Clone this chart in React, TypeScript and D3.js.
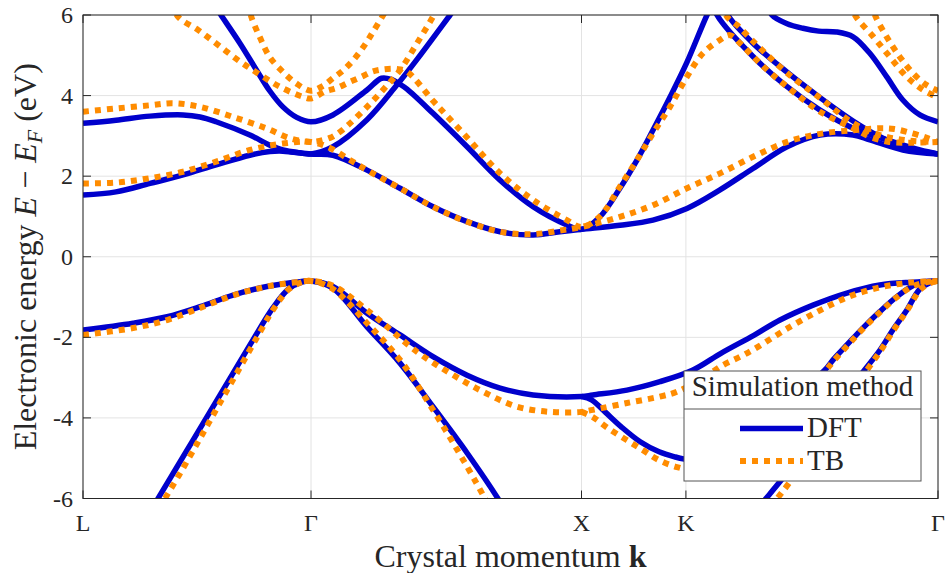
import React from "react";
import * as d3 from "d3";

type Pt = [number, number];

// k path positions (units of 2π/a) and labels
const kTicks = [0, 0.843, 1.843, 2.229, 3.161];
const kLabels = ["L", "Γ", "X", "K", "Γ"];
const eTicks = [-6, -4, -2, 0, 2, 4, 6];
const seriesNames = ["DFT", "TB"];
const legendTitle = "Simulation method";

// DFT bands: [k, E - E_F (eV)]
const dftV1: Pt[] = [[0,-1.82],[0.185,-1.65],[0.311,-1.49],[0.433,-1.24],[0.555,-0.95],[0.68,-0.74],[0.802,-0.62],[0.843,-0.6],[0.924,-0.74],[1.05,-1.4],[1.172,-1.94],[1.294,-2.48],[1.42,-2.94],[1.542,-3.26],[1.664,-3.43],[1.843,-3.47],[1.885,-3.43],[2.011,-3.31],[2.133,-3.1],[2.255,-2.81],[2.36,-2.39],[2.48,-1.95],[2.577,-1.57],[2.699,-1.2],[2.824,-0.9],[2.946,-0.7],[3.068,-0.63],[3.161,-0.6]];
const dftV2: Pt[] = [[0.26,-6.2],[0.281,-5.96],[0.333,-5.38],[0.407,-4.55],[0.481,-3.72],[0.555,-2.89],[0.628,-2.07],[0.702,-1.27],[0.76,-0.8],[0.81,-0.63],[0.843,-0.6],[0.924,-0.78],[1.05,-1.74],[1.172,-2.64],[1.294,-3.72],[1.42,-4.87],[1.534,-6.0],[1.56,-6.3]];
const dftV3: Pt[] = [[1.843,-3.47],[1.88,-3.55],[1.93,-3.85],[1.99,-4.22],[2.06,-4.59],[2.13,-4.84],[2.19,-4.97],[2.229,-5.03],[2.29,-5.1],[2.38,-4.95],[2.5,-4.3],[2.62,-3.55],[2.743,-2.81],[2.773,-2.56],[2.824,-2.19],[2.883,-1.77],[2.946,-1.36],[3.009,-0.99],[3.068,-0.72],[3.12,-0.62],[3.161,-0.6]];
const dftV4: Pt[] = [[2.5,-6.2],[2.525,-6.0],[2.577,-5.58],[2.7,-4.5],[2.8,-3.6],[2.88,-2.89],[2.946,-2.32],[2.994,-1.82],[3.046,-1.32],[3.094,-0.8],[3.13,-0.65],[3.161,-0.6]];
const dftC1: Pt[] = [[0,1.53],[0.122,1.61],[0.248,1.82],[0.37,2.03],[0.492,2.28],[0.617,2.52],[0.691,2.61],[0.739,2.62],[0.843,2.55],[0.924,2.52],[1.05,2.15],[1.172,1.7],[1.294,1.24],[1.42,0.87],[1.542,0.62],[1.664,0.54],[1.763,0.62],[1.843,0.68],[1.985,0.78],[2.107,0.91],[2.233,1.2],[2.355,1.66],[2.477,2.19],[2.603,2.73],[2.725,3.02],[2.847,3.02],[2.909,2.9],[3.031,2.65],[3.161,2.55]];
const dftCup: Pt[] = [[0,3.31],[0.122,3.39],[0.248,3.49],[0.37,3.52],[0.433,3.47],[0.492,3.35],[0.617,3.02],[0.691,2.77],[0.739,2.65],[0.8,2.58],[0.843,2.55],[0.924,2.73],[1.05,3.4],[1.16,4.26],[1.235,4.9],[1.357,6.0],[1.39,6.3]];
const dftG2: Pt[] = [[0.49,6.2],[0.51,6.0],[0.58,5.3],[0.64,4.65],[0.69,4.12],[0.739,3.72],[0.79,3.46],[0.843,3.35],[0.924,3.52],[1.05,4.14],[1.104,4.43],[1.14,4.4],[1.172,4.28],[1.198,4.16],[1.294,3.56],[1.42,2.73],[1.542,1.9],[1.664,1.24],[1.789,0.79],[1.843,0.68],[1.911,0.99],[1.985,1.7],[2.048,2.4],[2.107,3.14],[2.17,3.96],[2.233,4.83],[2.307,6.0],[2.33,6.3]];
const dftA: Pt[] = [[2.33,6.3],[2.344,6.0],[2.477,4.97],[2.603,4.22],[2.725,3.64],[2.847,3.19],[2.972,2.9],[3.094,2.65],[3.161,2.55]];
const dftB: Pt[] = [[2.37,6.3],[2.384,6.0],[2.477,5.3],[2.603,4.58],[2.725,3.95],[2.847,3.37],[2.921,3.07],[3.031,2.73],[3.161,2.55]];
const dftTop: Pt[] = [[2.53,6.3],[2.547,6.0],[2.601,5.79],[2.662,5.67],[2.72,5.6],[2.786,5.58],[2.847,5.46],[2.909,5.05],[2.971,4.47],[3.031,3.89],[3.094,3.52],[3.161,3.35]];

// TB bands
const tbV1: Pt[] = [[0,-1.94],[0.185,-1.77],[0.311,-1.57],[0.433,-1.27],[0.555,-0.96],[0.68,-0.74],[0.802,-0.62],[0.843,-0.6],[0.924,-0.72],[1.05,-1.32],[1.235,-2.36],[1.357,-2.89],[1.479,-3.35],[1.604,-3.72],[1.726,-3.85],[1.843,-3.85],[1.885,-3.8],[2.011,-3.63],[2.133,-3.47],[2.196,-3.35],[2.29,-3.02],[2.366,-2.69],[2.43,-2.48],[2.492,-2.25],[2.614,-1.74],[2.725,-1.33],[2.835,-0.98],[2.946,-0.76],[3.057,-0.64],[3.161,-0.6]];
const tbV2: Pt[] = [[0.28,-6.25],[0.303,-6.0],[0.355,-5.42],[0.425,-4.6],[0.495,-3.76],[0.565,-2.93],[0.635,-2.1],[0.706,-1.28],[0.762,-0.8],[0.81,-0.63],[0.843,-0.6],[0.924,-0.8],[1.05,-1.65],[1.172,-2.56],[1.294,-3.8],[1.42,-5.21],[1.486,-6.0],[1.51,-6.3]];
const tbV3: Pt[] = [[1.843,-3.85],[1.885,-3.98],[1.94,-4.25],[2.01,-4.55],[2.07,-4.8],[2.13,-5.05],[2.196,-5.22],[2.26,-5.3],[2.35,-5.2],[2.48,-4.5],[2.62,-3.6],[2.743,-2.85],[2.773,-2.6],[2.824,-2.22],[2.883,-1.79],[2.946,-1.38],[3.009,-1.0],[3.068,-0.73],[3.12,-0.63],[3.161,-0.6]];
const tbV4: Pt[] = [[2.54,-6.2],[2.566,-6.0],[2.61,-5.62],[2.72,-4.55],[2.815,-3.62],[2.89,-2.89],[2.95,-2.32],[2.997,-1.82],[3.048,-1.32],[3.095,-0.82],[3.13,-0.66],[3.161,-0.6]];
const tbC1: Pt[] = [[0,1.82],[0.122,1.84],[0.248,1.95],[0.37,2.11],[0.492,2.36],[0.617,2.65],[0.739,2.81],[0.843,2.85],[0.913,2.7],[0.987,2.4],[1.05,2.15],[1.172,1.7],[1.294,1.24],[1.42,0.87],[1.542,0.62],[1.664,0.56],[1.763,0.65],[1.843,0.74],[1.985,0.99],[2.107,1.28],[2.233,1.7],[2.355,2.07],[2.477,2.48],[2.603,2.85],[2.725,3.05],[2.85,3.14],[2.946,3.19],[3.0,3.17],[3.068,3.06],[3.12,2.95],[3.161,2.85]];
const tbCup: Pt[] = [[0,3.6],[0.122,3.68],[0.248,3.76],[0.333,3.81],[0.433,3.72],[0.555,3.47],[0.677,3.19],[0.765,2.94],[0.843,2.85],[0.913,2.95],[0.95,3.1],[0.987,3.31],[1.05,3.72],[1.109,4.14],[1.172,4.63],[1.235,5.3],[1.294,5.96],[1.32,6.3]];
const tbR: Pt[] = [[0.33,6.3],[0.351,5.96],[0.425,5.63],[0.499,5.26],[0.573,4.88],[0.647,4.55],[0.727,4.22],[0.813,3.97],[0.843,3.93],[0.895,4.1],[0.939,4.19],[0.987,4.34],[1.031,4.47],[1.068,4.59],[1.109,4.65],[1.161,4.66],[1.198,4.59],[1.294,3.87],[1.338,3.55],[1.42,2.96],[1.542,2.07],[1.664,1.41],[1.789,0.91],[1.843,0.74],[1.911,1.0],[1.985,1.74],[2.048,2.4],[2.107,3.06],[2.17,3.72],[2.233,4.47],[2.292,5.05],[2.355,5.38],[2.392,5.5],[2.429,5.3],[2.466,5.05],[2.503,4.8],[2.551,4.51],[2.603,4.22],[2.725,3.6],[2.847,3.19],[2.909,2.98],[2.98,2.85],[3.06,2.83],[3.161,2.85]];
const tbB: Pt[] = [[2.37,6.3],[2.381,5.96],[2.418,5.75],[2.455,5.5],[2.5,5.2],[2.603,4.56],[2.725,3.94],[2.847,3.32],[2.946,3.02],[3.057,2.88],[3.161,2.85]];
const tbS: Pt[] = [[0.61,6.3],[0.622,5.96],[0.653,5.46],[0.69,4.96],[0.739,4.59],[0.789,4.3],[0.843,4.12],[0.887,4.24],[0.924,4.43],[0.961,4.62],[0.994,4.84],[1.024,5.09],[1.05,5.34],[1.072,5.58],[1.11,6.0],[1.14,6.35]];
const tbT1: Pt[] = [[2.84,6.3],[2.854,6.0],[2.922,5.46],[2.983,4.96],[3.045,4.47],[3.106,4.14],[3.161,3.95]];
const tbT2: Pt[] = [[2.915,6.3],[2.928,6.0],[2.971,5.46],[3.02,4.96],[3.069,4.55],[3.119,4.26],[3.161,4.12]];

const dftBands = [dftV1, dftV2, dftV3, dftV4, dftC1, dftCup, dftG2, dftA, dftB, dftTop];
const tbBands = [tbV1, tbV2, tbV3, tbV4, tbC1, tbCup, tbR, tbB, tbS, tbT1, tbT2];

const blue = "#0000cc";
const orange = "#ff8c00";
const axisColor = "#262626";
const font = "Liberation Serif, DejaVu Serif, serif";

const W = 947;
const H = 573;
const margin = { top: 15, right: 9, bottom: 74.5, left: 83 };

export default function App() {
  const x = d3.scaleLinear().domain([0, 3.161]).range([margin.left, W - margin.right]);
  const y = d3.scaleLinear().domain([-6, 6]).range([H - margin.bottom, margin.top]);
  const line = d3.line<Pt>().x(d => x(d[0])).y(d => y(d[1])).curve(d3.curveCatmullRom.alpha(0.5));

  const x0 = x.range()[0], x1 = x.range()[1];
  const y0 = y.range()[1], y1 = y.range()[0];
  const tickLen = 8;

  // legend box
  const lg = { x: 684, y: 371, w: 237, h: 110, titleH: 38 };

  return (
    <svg width={W} height={H} style={{ position: "absolute", left: 0, top: 0, fontFamily: font }}>
      <defs>
        <clipPath id="plotClip">
          <rect x={x0} y={y0} width={x1 - x0} height={y1 - y0} />
        </clipPath>
      </defs>
      <rect x={x0} y={y0} width={x1 - x0} height={y1 - y0} fill="#fff" />

      {/* grid */}
      <g stroke="#e3e3e3" strokeWidth={1}>
        {eTicks.map(t => <line key={"gy" + t} x1={x0} x2={x1} y1={y(t)} y2={y(t)} />)}
        {kTicks.map((t, i) => <line key={"gx" + i} x1={x(t)} x2={x(t)} y1={y0} y2={y1} />)}
      </g>

      {/* bands */}
      <g clipPath="url(#plotClip)" fill="none">
        {dftBands.map((b, i) => (
          <path key={"d" + i} d={line(b) || ""} stroke={blue} strokeWidth={5.5} strokeLinejoin="round" />
        ))}
        {tbBands.map((b, i) => (
          <path key={"t" + i} d={line(b) || ""} stroke={orange} strokeWidth={6} strokeDasharray="6 6" />
        ))}
      </g>

      {/* axes box and ticks */}
      <g stroke={axisColor} strokeWidth={1} fill="none">
        <rect x={x0} y={y0} width={x1 - x0} height={y1 - y0} />
        {eTicks.map(t => (
          <g key={"ty" + t}>
            <line x1={x0} x2={x0 + tickLen} y1={y(t)} y2={y(t)} />
            <line x1={x1} x2={x1 - tickLen} y1={y(t)} y2={y(t)} />
          </g>
        ))}
        {kTicks.map((t, i) => (
          <g key={"tx" + i}>
            <line x1={x(t)} x2={x(t)} y1={y1} y2={y1 - tickLen} />
            <line x1={x(t)} x2={x(t)} y1={y0} y2={y0 + tickLen} />
          </g>
        ))}
      </g>

      {/* tick labels */}
      <g fill={axisColor} fontSize={24}>
        {eTicks.map(t => (
          <text key={"ly" + t} x={x0 - 10} y={y(t) + 8} textAnchor="end">{String(t)}</text>
        ))}
        {kTicks.map((t, i) => (
          <text key={"lx" + i} x={x(t)} y={531} textAnchor="middle">{kLabels[i]}</text>
        ))}
      </g>

      {/* axis labels */}
      <text x={(x0 + x1) / 2} y={567} textAnchor="middle" fontSize={32} fill={axisColor}>
        Crystal momentum <tspan fontWeight="bold">k</tspan>
      </text>
      <text transform={`translate(36,${(y0 + y1) / 2}) rotate(-90)`} textAnchor="middle" fontSize={32} fill={axisColor}>
        Electronic energy <tspan fontStyle="italic">E</tspan> − <tspan fontStyle="italic">E</tspan>
        <tspan fontStyle="italic" fontSize={22} dy={6}>F</tspan>
        <tspan dy={-6}> (eV)</tspan>
      </text>

      {/* legend */}
      <g>
        <rect x={lg.x} y={lg.y} width={lg.w} height={lg.h} fill="#fff" stroke="#555" strokeWidth={1} />
        <line x1={lg.x} x2={lg.x + lg.w} y1={lg.y + lg.titleH} y2={lg.y + lg.titleH} stroke="#555" strokeWidth={1} />
        <text x={lg.x + lg.w / 2} y={lg.y + 25} textAnchor="middle" fontSize={29} fill={axisColor}>{legendTitle}</text>
        {seriesNames.map((name, i) => {
          const ly = lg.y + 57.5 + i * 32.5;
          return (
            <g key={name}>
              <line x1={740} x2={803} y1={ly} y2={ly}
                stroke={i === 0 ? blue : orange} strokeWidth={i === 0 ? 5.5 : 6}
                strokeDasharray={i === 0 ? undefined : "6 6"} />
              <text x={807} y={ly + 8.5} fontSize={29} fill={axisColor}>{name}</text>
            </g>
          );
        })}
      </g>
    </svg>
  );
}
